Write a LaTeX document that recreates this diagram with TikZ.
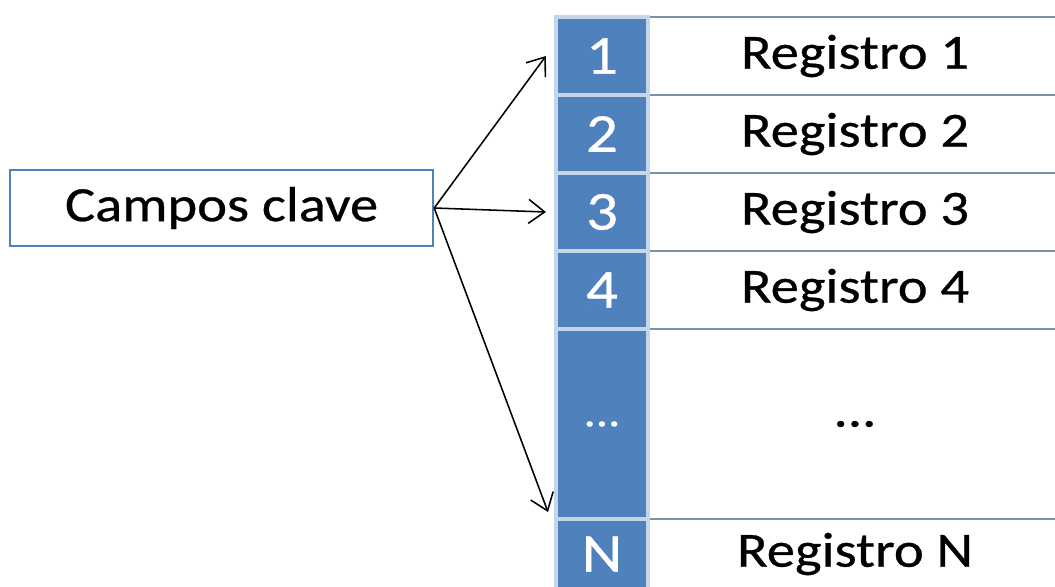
\documentclass[tikz,border=0pt]{standalone}
\usepackage{fontspec}
\setmainfont{Carlito}
\newfontfamily\widefont[FakeStretch=1.15,FakeBold=0.6]{Carlito}
\usetikzlibrary{arrows.meta}
\definecolor{cellblue}{HTML}{4F81BD}
\definecolor{celledge}{HTML}{C5D5EA}
\definecolor{rowline}{HTML}{7F8FA9}

\begin{document}
\begin{tikzpicture}[x=1cm,y=1cm,
  numcell/.style={fill=cellblue, draw=celledge, line width=3pt, minimum width=2.3cm, minimum height=1.95cm, text=white, font=\widefont\fontsize{39}{42}\selectfont},
  regcell/.style={draw=rowline, line width=1.2pt, minimum width=10.35cm, minimum height=1.95cm, font=\widefont\fontsize{35}{40}\selectfont},
  link/.style={-{Straight Barb[length=4mm,width=6mm]}, line width=1.1pt}]
\useasboundingbox (0,0) rectangle (26.375,-14.65);

% register column
\node[regcell] (r1) at (21.375,-1.4) {Registro 1};
\node[regcell] (r2) at (21.375,-3.35) {Registro 2};
\node[regcell] (r3) at (21.375,-5.3) {Registro 3};
\node[regcell] (r4) at (21.375,-7.25) {Registro 4};
\node[regcell, minimum height=4.75cm] (rd) at (21.375,-10.6) {...};
\node[regcell, minimum height=1.75cm] (rn) at (21.375,-13.85) {Registro N};

% key column
\node[numcell] (n1) at (15.05,-1.4) {1};
\node[numcell] (n2) at (15.05,-3.35) {2};
\node[numcell] (n3) at (15.05,-5.3) {3};
\node[numcell] (n4) at (15.05,-7.25) {4};
\node[numcell, minimum height=4.75cm, font=\widefont\fontsize{30}{36}\selectfont] (nd) at (15.05,-10.6) {...};
\node[numcell, minimum height=1.75cm] (nn) at (15.05,-13.85) {N};

\node[draw=cellblue, line width=1.6pt, minimum width=10.575cm, minimum height=1.9cm, font=\widefont\fontsize{35}{40}\selectfont] (ck) at (5.54,-5.2) {Campos clave};

\coordinate (tip) at (13.7,-12.8);
\draw[link] (ck.east) -- ([xshift=-0.2cm]n1.west);
\draw[link] (ck.east) -- ([xshift=-0.2cm]n3.west);
\draw[link] (ck.east) -- (tip);
\end{tikzpicture}
\end{document}
